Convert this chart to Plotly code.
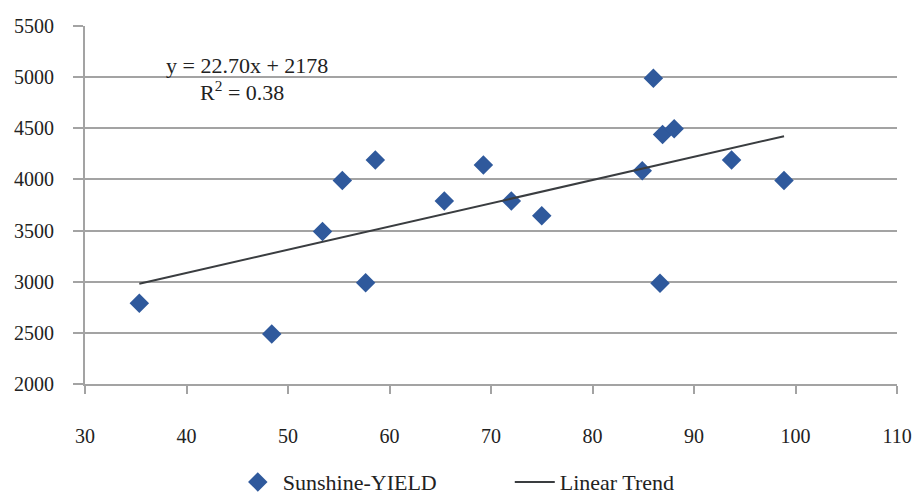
import plotly.graph_objects as go

sunshine = [35.35, 48.4, 53.4, 55.35, 57.65, 58.6, 65.4, 69.25, 72.0, 75.0,
            84.9, 86.0, 86.65, 86.9, 88.05, 93.7, 98.87]
yield_vals = [2790, 2490, 3490, 3990, 2990, 4190, 3790, 4140, 3790, 3645,
              4085, 4990, 2985, 4440, 4495, 4190, 3990]

slope = 22.70
intercept = 2178
r_squared = 0.38

x_ticks = [30, 40, 50, 60, 70, 80, 90, 100, 110]
y_ticks = [2000, 2500, 3000, 3500, 4000, 4500, 5000, 5500]

trend_x = [min(sunshine), max(sunshine)]
trend_y = [slope * v + intercept for v in trend_x]

FONT = "Liberation Serif, Times New Roman, DejaVu Serif, serif"
TXT = "#222222"
GRID = "#a3a3a3"

fig = go.Figure()
fig.add_trace(go.Scatter(
    x=sunshine, y=yield_vals, mode="markers", name="Sunshine-YIELD",
    marker=dict(symbol="diamond", size=15, color="#2f599c",
                line=dict(width=0)),
))
fig.add_trace(go.Scatter(
    x=trend_x, y=trend_y, mode="lines", name="Linear Trend",
    line=dict(color="#3a3d40", width=2),
))

fig.add_annotation(x=45.96, y=5115, xref="x", yref="y",
                   text=f"y = {slope:.2f}x + {intercept}", showarrow=False,
                   font=dict(family=FONT, size=22, color=TXT))
fig.add_annotation(x=45.5, y=4865, xref="x", yref="y",
                   text=f"R<sup>2</sup> = {r_squared:.2f}", showarrow=False,
                   font=dict(family=FONT, size=22, color=TXT))

fig.update_layout(
    width=917, height=496,
    margin=dict(l=85, r=20, t=26, b=112, autoexpand=False),
    paper_bgcolor="white", plot_bgcolor="white",
    font=dict(family=FONT, size=20, color=TXT),
    showlegend=True,
    legend=dict(orientation="h", x=0.182, xanchor="left", y=-0.274,
                yanchor="middle", font=dict(family=FONT, size=22, color=TXT),
                itemwidth=40, tracegroupgap=0,
                entrywidth=222, entrywidthmode="pixels"),
    xaxis=dict(range=[30, 110], tickvals=x_ticks, ticktext=[str(v) for v in x_ticks],
               showgrid=False, zeroline=False, showline=True, linecolor=GRID,
               linewidth=2, ticks="outside", ticklen=8, tickwidth=2, tickcolor=GRID,
               ticklabelstandoff=25, automargin=False,
               tickfont=dict(family=FONT, size=20, color=TXT)),
    yaxis=dict(range=[2000, 5500], tickvals=y_ticks, ticktext=[str(v) for v in y_ticks],
               showgrid=True, gridcolor=GRID, gridwidth=2, zeroline=False,
               showline=True, linecolor=GRID, linewidth=2,
               ticks="outside", ticklen=10, tickwidth=2, tickcolor=GRID,
               ticklabelstandoff=15, automargin=False,
               tickfont=dict(family=FONT, size=20, color=TXT)),
)

fig.write_html(
    "out.html",
    config={"displayModeBar": False},
    post_script="document.body.style.margin='0';document.body.style.overflow='hidden';",
)
